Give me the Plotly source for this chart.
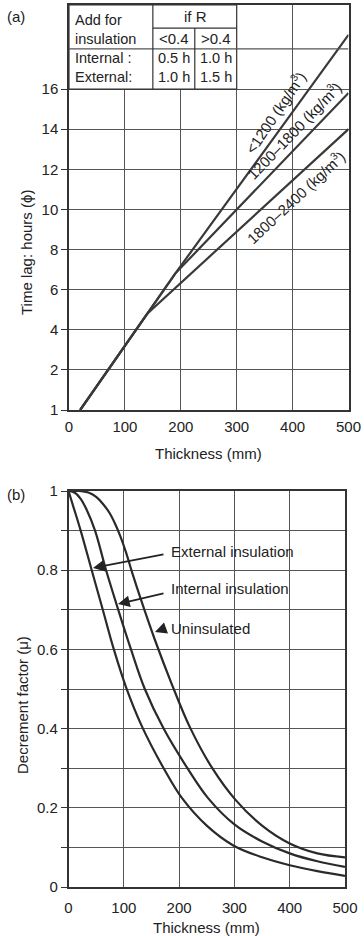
import plotly.graph_objects as go

# (a) time lag vs thickness; y values are axis positions (bottom tick is labelled "1")
thk_lt1200 = [20, 140, 190, 500]
lag_lt1200 = [0, 4.8, 6.8, 18.7]
thk_1200_1800 = [20, 140, 190, 500]
lag_1200_1800 = [0, 4.8, 6.8, 15.8]
thk_1800_2400 = [20, 140, 500]
lag_1800_2400 = [0, 4.8, 14.0]
lag_tickvals = [0, 2, 4, 6, 8, 10, 12, 14, 16]
lag_ticktext = ["1", "2", "4", "6", "8", "10", "12", "14", "16"]
thk_ticks = [0, 100, 200, 300, 400, 500]

# (b) decrement factor vs thickness
thk_ext = [0, 10, 22, 42, 62, 82, 104, 133, 172, 205, 250, 298, 350, 400, 450, 500]
mu_ext = [1, 0.955, 0.9, 0.8, 0.7, 0.6, 0.505, 0.405, 0.3, 0.225, 0.155, 0.105, 0.075, 0.055, 0.04, 0.028]
thk_int = [0, 12, 22, 32, 48, 68, 90, 113, 138, 172, 215, 252, 300, 350, 400, 450, 500]
mu_int = [1, 0.995, 0.98, 0.955, 0.9, 0.8, 0.7, 0.6, 0.5, 0.4, 0.3, 0.225, 0.158, 0.115, 0.085, 0.065, 0.051]
thk_uni = [0, 20, 36, 50, 62, 74, 84, 94, 104, 116, 130, 156, 186, 219, 260, 302, 350, 400, 450, 500]
mu_uni = [1, 1, 0.996, 0.985, 0.968, 0.945, 0.918, 0.885, 0.845, 0.79, 0.73, 0.625, 0.515, 0.405, 0.3, 0.22,
          0.155, 0.11, 0.085, 0.075]
mu_tickvals = [0, 0.2, 0.4, 0.6, 0.8, 1]
mu_ticktext = ["0", "0.2", "0.4", "0.6", "0.8", "1"]

W, H = 364, 936
FONT = "Liberation Sans, Arial, sans-serif"
INK = "#222"
GRID = "#555"


def px(x):
    return x / W


def py(y):
    return 1 - y / H


fig = go.Figure()
for xs, ys in [(thk_lt1200, lag_lt1200), (thk_1200_1800, lag_1200_1800), (thk_1800_2400, lag_1800_2400)]:
    fig.add_trace(go.Scatter(x=xs, y=ys, mode="lines", line=dict(color="#3a3a3a", width=2.2),
                             xaxis="x", yaxis="y", showlegend=False))
for xs, ys in [(thk_ext, mu_ext), (thk_int, mu_int), (thk_uni, mu_uni)]:
    fig.add_trace(go.Scatter(x=xs, y=ys, mode="lines",
                             line=dict(color="#2a2a2a", width=2.2, shape="spline", smoothing=1.0),
                             xaxis="x2", yaxis="y2", showlegend=False))

ax_common = dict(showline=True, linecolor="#333", linewidth=1.5, mirror=True, gridcolor=GRID, gridwidth=1,
                 zeroline=False, automargin=False, tickfont=dict(family=FONT, size=15, color=INK))
ytop = 405 / 20.06

fig.update_layout(
    width=W, height=H, margin=dict(l=0, r=0, t=0, b=0, autoexpand=False),
    paper_bgcolor="white", plot_bgcolor="white", showlegend=False,
    font=dict(family=FONT, size=15, color=INK),
    xaxis=dict(domain=[px(69), px(348.5)], range=[0, 500], tickvals=thk_ticks,
               ticks="", ticklabelstandoff=2, anchor="y", **ax_common),
    yaxis=dict(domain=[py(410), py(5)], range=[0, ytop], tickvals=lag_tickvals, ticktext=lag_ticktext,
               ticks="outside", ticklen=6, tickcolor="#333", anchor="x", **ax_common),
    xaxis2=dict(domain=[px(68.5), px(345)], range=[0, 500], tickvals=thk_ticks,
                ticks="", ticklabelstandoff=6, anchor="y2", **ax_common),
    yaxis2=dict(domain=[py(887), py(491)], range=[0, 1], tickvals=mu_tickvals, ticktext=mu_ticktext,
                ticks="outside", ticklen=6, tickcolor="#333",
                minor=dict(dtick=0.1, showgrid=True, gridcolor=GRID, gridwidth=1, ticks="outside", ticklen=6,
                           tickcolor="#333"),
                anchor="x2", **ax_common),
)

# table in panel (a)
tl = dict(color="#333", width=1.2)
fig.add_shape(type="rect", xref="x", yref="y", x0=0, x1=300, y0=16, y1=ytop, fillcolor="white", line=tl, layer="above")
fig.add_shape(type="line", xref="x", yref="y", x0=0, x1=500, y0=18, y1=18, line=dict(color=GRID, width=1.2), layer="above")
fig.add_shape(type="line", xref="x", yref="y", x0=150, x1=150, y0=16, y1=ytop, line=tl, layer="above")
fig.add_shape(type="line", xref="x", yref="y", x0=225, x1=225, y0=16, y1=19.04, line=tl, layer="above")
fig.add_shape(type="line", xref="x", yref="y", x0=150, x1=300, y0=19.04, y1=19.04, line=tl, layer="above")

notes = [
    ("Add for<br>insulation", 73, 29, "left", 14.5),
    ("Internal :<br>External:", 73, 68, "left", 14.5),
    ("if R", 195, 16, "center", 15), ("<0.4", 174, 39, "center", 15), (">0.4", 216, 39, "center", 15),
    ("0.5 h<br>1.0 h", 174, 68, "center", 14.5), ("1.0 h<br>1.5 h", 216, 68, "center", 14.5),
    ("(a)", 16, 16, "center", 15), ("(b)", 16, 494, "center", 15),
    ("Thickness (mm)", 208, 453, "center", 15), ("Thickness (mm)", 206, 927, "center", 15),
    ("External insulation", 169, 551, "left", 15), ("Internal insulation", 169, 588, "left", 15),
    ("Uninsulated", 169, 628, "left", 15),
]
for text, x, y, anc, sz in notes:
    fig.add_annotation(text=text, x=px(x), y=py(y), xref="paper", yref="paper", xanchor=anc, yanchor="middle",
                       align=anc, showarrow=False, font=dict(family=FONT, size=sz, color=INK))

rotated = [("Time lag: hours (ϕ)", 27, 253, -90), ("Decrement factor (μ)", 22, 705, -90),
           ("<1200 (kg/m<sup>3</sup>)", 274, 112, -56),
           ("1200–1800 (kg/m<sup>3</sup>)", 294, 130, -46),
           ("1800–2400 (kg/m<sup>3</sup>)", 295, 196, -43)]
for text, x, y, ang in rotated:
    fig.add_annotation(text=text, x=px(x), y=py(y), xref="paper", yref="paper", textangle=ang,
                       xanchor="center", yanchor="middle", showarrow=False,
                       font=dict(family=FONT, size=15, color=INK))

# arrows in panel (b)
for tipx, tipy, tailx, taily in [(93, 568, 165, 554), (118, 604, 165, 593), (155, 632, 166, 628)]:
    fig.add_annotation(text="", x=px(tipx), y=py(tipy), xref="paper", yref="paper", ax=tailx - tipx, ay=taily - tipy,
                       showarrow=True, arrowhead=2, arrowsize=1.3, arrowwidth=1.8, arrowcolor="#222")

# drop the browser's default 8px page margin so the figure fills the window
fig.write_html("out.html", config={"displayModeBar": False},
               post_script="document.body.style.margin='0';document.body.style.overflow='hidden';")
